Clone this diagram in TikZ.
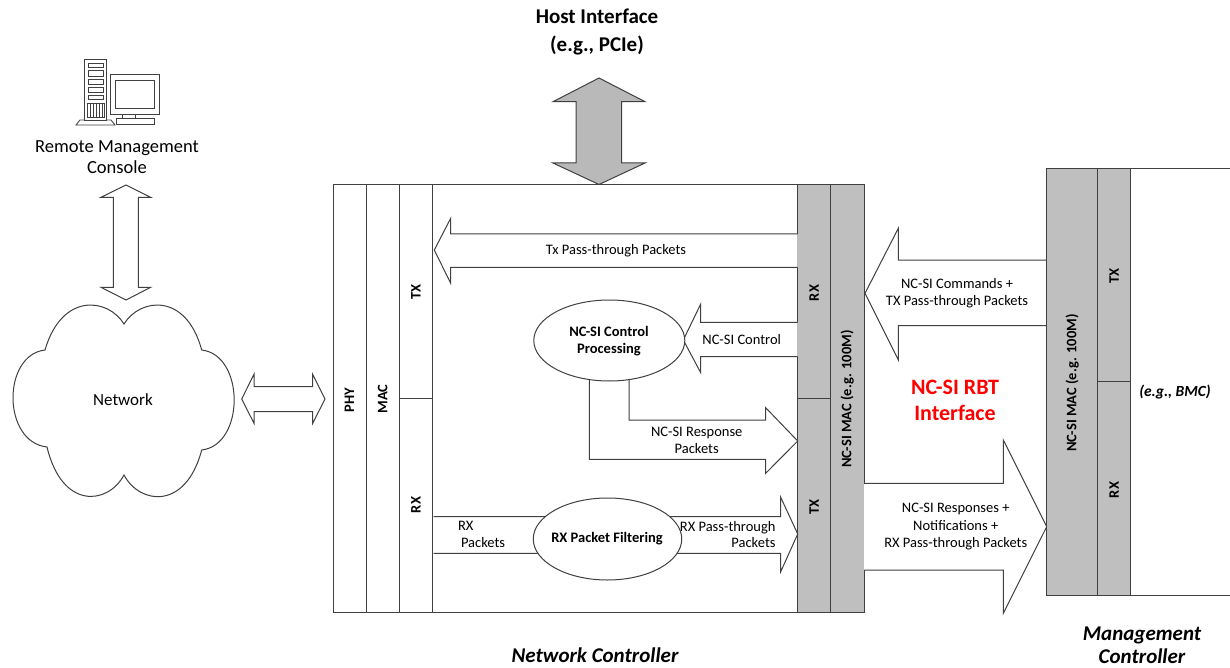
\documentclass[tikz,border=0pt]{standalone}
\usepackage{fontspec}
\setmainfont{Carlito}
\usetikzlibrary{shapes.geometric}
\definecolor{ln}{RGB}{64,64,64}
\definecolor{gfill}{RGB}{191,191,191}
\definecolor{hfill}{RGB}{185,185,185}
\definecolor{rbt}{RGB}{255,0,0}
\begin{document}
\begin{tikzpicture}[x=1pt,y=-1pt,line width=1pt,
  every node/.style={inner sep=0pt,outer sep=0pt},
  txt/.style={font=\fontsize{14.5}{16.8}\selectfont,align=center,text=black},
  btxt/.style={font=\fontsize{14.5}{16.8}\selectfont\bfseries,align=center,text=black},
  rlab/.style={btxt,rotate=90},
  head/.style={font=\fontsize{21}{28}\selectfont\bfseries,align=center},
  ihead/.style={font=\fontsize{21}{23}\selectfont\bfseries\itshape,align=center},
  blk/.style={draw=ln,fill=white,line join=miter},
  col/.style={draw=ln},
  ell/.style={draw=ln,fill=white,ellipse,minimum width=150pt,minimum height=82pt}
]
\useasboundingbox (0,0) rectangle (1230,668);

% ---------- Remote management console icon ----------
\draw[ln,fill=white,line width=0.8pt] (76,125)--(80,120)--(111,120)--(115,125)--cycle;
\draw[ln,fill=white,line width=0.8pt] (84,59) rectangle (106.7,120);
\draw[ln,line width=0.6pt] (88,63) rectangle (103,67);
\draw[ln,line width=0.6pt] (88,70) rectangle (103,76);
\draw[ln,line width=0.6pt] (88,79) rectangle (103,84);
\draw[ln,line width=0.6pt] (88,87) rectangle (103,92);
\draw[ln,line width=0.6pt] (88,95) rectangle (103,99);
\draw[ln,line width=0.6pt] (87,103) rectangle (104,117);
\foreach \gx in {90,93,...,102} \draw[ln,line width=0.6pt] (\gx,103)--(\gx,117);
\draw[ln,fill=white,line width=0.8pt] (116,118) rectangle (154,124);
\draw[ln,fill=white,line width=0.8pt] (122,113) rectangle (135,118);
\draw[ln,fill=white,line width=0.8pt] (110,74.3) rectangle (159.3,114);
\draw[ln,line width=0.8pt] (115,80) rectangle (154,108.3);
\node[txt,font=\fontsize{18.5}{21}\selectfont] (rmc) at (117,157) {Remote Management\\Console};

% vertical double arrow console <-> network
\draw[blk] (126,185)--(150.7,197.3)--(138.3,197.3)--(138.3,287.3)--(150.7,287.3)--(126,300)
  --(101,287.3)--(113.3,287.3)--(113.3,197.3)--(101,197.3)--cycle;

% ---------- Network cloud ----------
\draw[ln,fill=white] (124,324) .. controls (108,298) and (62,292) .. (45,350)
  .. controls (2,355) and (2,442) .. (47,447)
  .. controls (62,510) and (108,505) .. (124,475)
  .. controls (140,505) and (186,510) .. (201.7,450)
  .. controls (245,445) and (245,355) .. (201.7,350)
  .. controls (186,292) and (140,298) .. (124,324) -- cycle;
\node[txt,font=\fontsize{17}{20}\selectfont] (net) at (123,400) {Network};

% horizontal double arrow network <-> PHY
\draw[blk] (241.7,399)--(254,374.3)--(254,386.7)--(312.7,386.7)--(312.7,374.3)--(325,399)
  --(312.7,423.3)--(312.7,411.7)--(254,411.7)--(254,423.3)--cycle;

% ---------- Host interface ----------
\node[head] (host) at (597,32) {Host Interface\\(e.g., PCIe)};
\draw[draw=ln,fill=hfill,line join=miter] (599,78)--(645,101.7)--(621.7,101.7)--(621.7,163)--(645,163)--(599,184.5)
  --(553,163)--(576,163)--(576,101.7)--(553,101.7)--cycle;

% ---------- Network controller ----------
\draw[col,fill=white] (333,185) rectangle (864,612);
\draw[col] (366,185)--(366,612);
\draw[col] (399.3,185)--(399.3,612);
\draw[col] (432.8,185)--(432.8,612);
\draw[col] (399.3,398.5)--(432.8,398.5);
\draw[col,fill=gfill] (797.7,185) rectangle (830.7,612);
\draw[col,fill=gfill] (830.7,185) rectangle (864,612);
\draw[col] (797.7,398.5)--(830.7,398.5);

\node[rlab] (phy) at (349.5,400) {PHY};
\node[rlab] (mac) at (382.6,399) {MAC};
\node[rlab] (ltx) at (416,292) {TX};
\node[rlab] (lrx) at (416,505) {RX};
\node[rlab] (grx) at (814.2,293) {RX};
\node[rlab] (gtx) at (814.2,507) {TX};
\node[rlab] (ncmac) at (847.3,399) {NC-SI MAC (e.g. 100M)};

% Tx pass-through arrow
\draw[blk] (797.7,234)--(450.7,234)--(450.7,218.3)--(434.3,250)--(450.7,283.3)--(450.7,267.3)--(797.7,267.3);
\node[txt] (txpt) at (616,251) {Tx Pass-through Packets};

% NC-SI control arrow
\draw[blk] (797.7,322.3)--(700.7,322.3)--(700.7,304)--(683.3,340)--(700.7,372.7)--(700.7,356.7)--(797.7,356.7);
\node[txt] (ctl) at (741.7,340) {NC-SI Control};

% NC-SI response elbow arrow
\draw[blk] (629,360)--(629,420)--(765.7,420)--(765.7,407.7)--(797.7,441)--(765.7,473.3)--(765.7,459.3)
  --(589.3,459.3)--(589.3,360);
\node[txt] (resp) at (696.7,440) {NC-SI Response\\Packets};

% RX packets arrow
\draw[blk] (433.5,516.7)--(780.7,516.7)--(780.7,497.3)--(797.7,534)--(780.7,571.7)--(780.7,553.3)--(433.5,553.3);
\node[txt,align=left,anchor=west] (rxp) at (458,534.5) {RX\\\hspace{3pt}Packets};
\node[txt,align=right,anchor=east] (rxpt) at (775.5,534.5) {RX Pass-through\\Packets};

% ellipses
\node[ell,minimum width=151pt,minimum height=81pt] (cp) at (609.3,340.5) {};
\node[btxt] (cptxt) at (609,341.5) {NC-SI Control\\Processing};
\node[ell,minimum width=148.5pt,minimum height=82pt] (rpf) at (607.5,539) {};
\node[btxt] (rpftxt) at (607,539) {RX Packet Filtering};

% ---------- NC-SI RBT interface arrows ----------
\draw[blk] (1046.7,260)--(898.3,260)--(898.3,228.3)--(865,293.3)--(898.3,360)--(898.3,325.7)--(1046.7,325.7);
\node[txt] (cmd) at (957,293.5) {NC-SI Commands +\\TX Pass-through Packets};
\draw[blk] (864,483.3)--(1003.3,483.3)--(1003.3,440)--(1046.7,526.7)--(1003.3,613.3)--(1003.3,570)--(864,570);
\node[txt,font=\fontsize{14.5}{17.5}\selectfont] (rsp) at (955.7,527) {NC-SI Responses +\\Notifications +\\RX Pass-through Packets};
\node[font=\fontsize{22}{25.6}\selectfont\bfseries,align=center,text=rbt] (rbtl) at (955,400.5) {NC-SI RBT\\Interface};

% ---------- Management controller ----------
\draw[col] (1130.7,169)--(1230,169);
\draw[col] (1130.7,595.7)--(1230,595.7);
\draw[col,fill=gfill] (1046.7,169) rectangle (1097.7,595.7);
\draw[col,fill=gfill] (1097.7,169) rectangle (1130.7,595.7);
\draw[col] (1097.7,381.7)--(1130.7,381.7);
\node[rlab] (mcmac) at (1072.2,383) {NC-SI MAC (e.g. 100M)};
\node[rlab] (mctx) at (1114.2,276) {TX};
\node[rlab] (mcrx) at (1114.2,490) {RX};
\node[font=\fontsize{15.5}{18}\selectfont\bfseries\itshape] (bmc) at (1175,392) {(e.g., BMC)};

% ---------- bottom captions ----------
\node[ihead] (ncl) at (595,655) {Network Controller};
\node[ihead] (mcl) at (1142,645.5) {Management\\Controller};
\end{tikzpicture}
\end{document}
